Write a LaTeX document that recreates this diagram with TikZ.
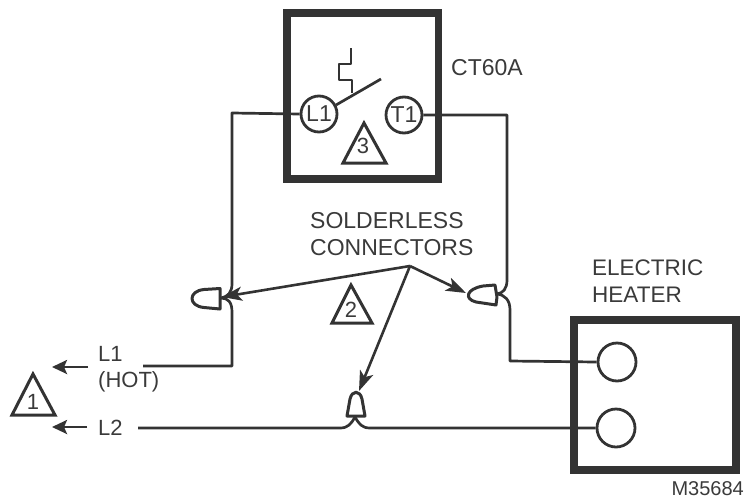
\documentclass[tikz,border=0pt]{standalone}
\usepackage{fontspec}
\setmainfont{Liberation Sans}
\usetikzlibrary{arrows.meta}
\definecolor{ink}{HTML}{333333}
\definecolor{txt}{HTML}{3A3A3A}
\tikzset{
  x=1pt,y=-1pt,
  wire/.style={draw=ink,line width=2.7pt,line join=round},
  heavybox/.style={draw=ink,line width=7.8pt},
  terminal/.style={circle,draw=ink,line width=2.8pt,minimum size=36pt,inner sep=0pt,font=\fontsize{23}{23}\selectfont,text=txt},
  lead/.style={draw=ink,line width=2.6pt,-{Stealth[length=15pt,width=14pt,inset=3pt]}},
  pointer/.style={draw=ink,line width=2.6pt,-{Stealth[length=20pt,width=14pt,inset=5pt]}},
  marker/.style={draw=ink,line width=3pt,line join=miter},
  plug/.style={draw=ink,line width=3pt,line join=round,fill=white},
  caption/.style={inner sep=0pt,text=txt,font=\fontsize{23}{26}\selectfont,anchor=west},
  num/.style={inner sep=0pt,text=txt,font=\fontsize{22}{22}\selectfont}
}
\begin{document}
\begin{tikzpicture}
\useasboundingbox (0,0) rectangle (746,501);
% boxes
\draw[heavybox] (287,13) rectangle (438.5,179);
\draw[heavybox] (574,320) rectangle (736,470);
% terminals
\node[terminal] (L) at (319,114) {L1};
\node[terminal] (T) at (404,115) {T1};
\node[terminal,minimum size=38pt] (HA) at (617,362) {};
\node[terminal,minimum size=38pt] (HB) at (616,428) {};
% thermostat symbol
\coordinate (sa) at (336,105); \coordinate (sb) at (381,79);
\draw[wire] (sa) -- (sb);
\draw[wire] (351,48) -- (351,64) -- (339,64) -- (339,80) -- (352,80) -- (352,93);
% connector points
\coordinate (cl) at (221,298);
\coordinate (cr) at (497,294);
\coordinate (cb) at (355,417);
\coordinate (w1) at (143,366);
\coordinate (w2) at (138,428);
% wires
\draw[wire] (L.west) -- (232,113) -- (232,284) .. controls (232,292) and (228,297) .. (cl);
\draw[wire] (cl) .. controls (228,298) and (232,302) .. (232,312) -- (232,366) -- (w1);
\draw[wire] (T.east) -- (507,115) -- (507,280) .. controls (507,289) and (503,293) .. (cr);
\draw[wire] (cr) .. controls (505,295) and (510,300) .. (510,310) -- (510,361) -- (HA.west);
\draw[wire] (w2) -- (340,428) .. controls (348,428) and (351,424) .. (cb);
\draw[wire] (cb) .. controls (359,424) and (362,428) .. (370,428) -- (HB.west);
% solderless connectors
\draw[plug] (220,288.5) -- (204,289.5) .. controls (188,291) and (188,306) .. (204,307.5) -- (220,309) -- cycle;
\draw[plug] (495,285) -- (483,286) .. controls (466,289) and (464,299) .. (476,302) -- (496,305) -- (497,297) -- cycle;
\draw[plug] (347,416) -- (350,399) .. controls (352,390) and (360,390) .. (362,399) -- (365,416) -- (356,416) -- cycle;
% leader arrows
\coordinate (hub) at (410,266);
\draw[pointer] (hub) -- (222,297);
\draw[pointer] (hub) -- (466,293);
\draw[pointer] (hub) -- (359,391);
\coordinate (a1) at (88,367); \coordinate (b1) at (52,367);
\coordinate (a2) at (87,427); \coordinate (b2) at (52,427);
\draw[lead] (a1) -- (b1);
\draw[lead] (a2) -- (b2);
% triangles
\draw[marker] (364,123) -- (343,163) -- (386,163) -- cycle;
\draw[marker] (351,285) -- (332,323) -- (372,323) -- cycle;
\draw[marker] (33,374) -- (12,415) -- (55,415) -- cycle;
\node[num] (n3) at (363,146) {3};
\node[num] (n2) at (351,310) {2};
\node[num] (n1) at (33,402) {1};
% texts
\node[caption] (ct) at (451,68) {CT60A};
\node[caption] (s1) at (310,221) {SOLDERLESS};
\node[caption] (s2) at (310,248) {CONNECTORS};
\node[caption,font=\fontsize{22.5}{26}\selectfont] (e1) at (592,268) {ELECTRIC};
\node[caption,font=\fontsize{22.5}{26}\selectfont] (e2) at (592,295) {HEATER};
\node[caption,font=\fontsize{22}{26}\selectfont] (l1) at (98,354) {L1};
\node[caption,font=\fontsize{22}{26}\selectfont] (hot) at (98,382) {(HOT)};
\node[caption,font=\fontsize{22}{26}\selectfont] (l2) at (98,428) {L2};
\node[inner sep=0pt,text=txt,font=\fontsize{20}{20}\selectfont,anchor=east] (m) at (744,489) {M35684};
\end{tikzpicture}
\end{document}
